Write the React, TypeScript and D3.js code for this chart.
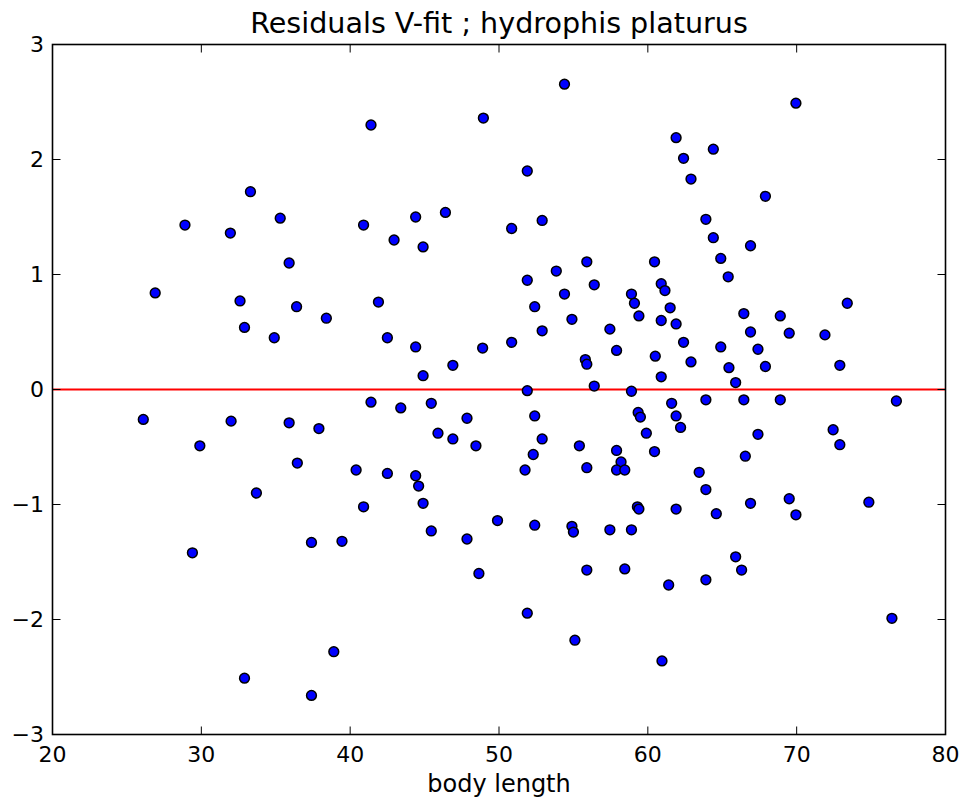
import React from "react";
import * as d3 from "d3";

const bodyLength: number[] = [
  33.3, 28.9, 31.95, 35.3, 26.9, 32.6, 32.9, 34.9, 41.4, 48.95,
  40.9, 44.4, 46.4, 42.95, 44.9, 35.9, 36.4, 38.4, 41.9, 42.5,
  44.4, 48.9, 46.9, 44.9, 54.4, 51.9, 50.85, 52.9, 61.9, 62.4,
  64.4, 62.9, 63.9, 64.4, 64.9, 65.4, 55.9, 60.45, 53.85, 51.9,
  56.4, 54.4, 52.4, 52.9, 54.9, 50.85, 58.9, 59.1, 59.4, 60.9,
  61.15, 61.5, 60.9, 61.9, 57.45, 57.9, 55.8, 55.9, 60.5, 62.4,
  62.9, 64.9, 60.9, 51.9, 56.4, 58.9, 69.95, 67.9, 66.9, 73.4,
  66.45, 68.9, 66.9, 69.5, 71.9, 67.4, 65.45, 67.9, 72.9, 65.9,
  26.1, 32.0, 29.9, 33.7, 29.4, 32.9, 35.9, 37.9, 41.4, 43.4,
  45.45, 47.85, 45.9, 46.9, 48.45, 36.45, 40.4, 42.5, 44.4, 44.6,
  44.9, 40.9, 49.9, 45.45, 37.4, 39.45, 47.85, 48.65, 38.9, 37.4,
  61.6, 63.9, 52.4, 59.35, 59.5, 61.9, 62.2, 59.9, 52.9, 55.4,
  57.9, 60.45, 52.3, 58.2, 51.75, 55.9, 57.9, 58.45, 63.45, 63.9,
  59.3, 59.4, 61.9, 64.6, 52.4, 54.9, 55.0, 57.45, 58.9, 55.9,
  58.45, 61.4, 63.9, 51.9, 55.1, 60.95, 66.45, 68.9, 76.7, 67.4,
  72.45, 72.9, 66.55, 66.9, 69.5, 69.95, 74.85, 65.9, 66.3, 76.4,
];

const residuals: number[] = [
  1.72, 1.43, 1.36, 1.49, 0.84, 0.77, 0.54, 0.45, 2.3, 2.36,
  1.43, 1.5, 1.54, 1.3, 1.24, 1.1, 0.72, 0.62, 0.76, 0.45,
  0.37, 0.36, 0.21, 0.12, 2.655, 1.9, 1.4, 1.47, 2.19, 2.01,
  2.09, 1.83, 1.48, 1.32, 1.14, 0.98, 1.11, 1.11, 1.03, 0.95,
  0.91, 0.83, 0.72, 0.51, 0.61, 0.41, 0.83, 0.75, 0.64, 0.92,
  0.86, 0.71, 0.6, 0.57, 0.525, 0.34, 0.26, 0.22, 0.29, 0.41,
  0.24, 0.37, 0.11, -0.01, 0.03, -0.015, 2.49, 1.68, 1.25, 0.75,
  0.66, 0.64, 0.5, 0.49, 0.475, 0.35, 0.19, 0.2, 0.21, 0.06,
  -0.26, -0.275, -0.49, -0.9, -1.42, -2.51, -0.29, -0.34, -0.11, -0.16,
  -0.12, -0.25, -0.38, -0.43, -0.49, -0.64, -0.7, -0.73, -0.75, -0.84,
  -0.99, -1.02, -1.14, -1.23, -1.33, -1.32, -1.3, -1.6, -2.28, -2.66,
  -0.12, -0.09, -0.23, -0.2, -0.24, -0.23, -0.33, -0.38, -0.43, -0.49,
  -0.53, -0.54, -0.565, -0.63, -0.7, -0.68, -0.7, -0.7, -0.72, -0.87,
  -1.02, -1.04, -1.04, -1.08, -1.18, -1.19, -1.24, -1.22, -1.22, -1.57,
  -1.56, -1.7, -1.655, -1.945, -2.18, -2.36, -0.09, -0.09, -0.1, -0.39,
  -0.35, -0.48, -0.58, -0.99, -0.95, -1.09, -0.98, -1.455, -1.57, -1.99,
];

const xTicks: number[] = [20, 30, 40, 50, 60, 70, 80];
const yTicks: number[] = [-3, -2, -1, 0, 1, 2, 3];

const W = 965;
const H = 803;
const left = 52.5;
const right = 945.5;
const top = 44.5;
const bottom = 734.5;
const FONT = "'DejaVu Sans', sans-serif";

export default function App() {
  const x = d3.scaleLinear().domain([20, 80]).range([left, right]);
  const y = d3.scaleLinear().domain([-3, 3]).range([bottom, top]);
  const tickLen = 8;
  const fmt = (v: number) => (v < 0 ? "\u2212" + Math.abs(v) : String(v));

  return (
    <svg
      width={W}
      height={H}
      style={{ position: "absolute", left: 0, top: 0, background: "#fff" }}
    >
      <rect x={0} y={0} width={W} height={H} fill="#fff" />
      <defs>
        <clipPath id="plotclip">
          <rect x={left} y={top} width={right - left} height={bottom - top} />
        </clipPath>
      </defs>
      <line
        x1={left}
        x2={right}
        y1={y(0)}
        y2={y(0)}
        stroke="#ff0000"
        strokeWidth={2}
        clipPath="url(#plotclip)"
      />
      <g clipPath="url(#plotclip)">
        {bodyLength.map((bl, i) => (
          <circle
            key={i}
            cx={x(bl)}
            cy={y(residuals[i])}
            r={4.9}
            fill="#0000ff"
            stroke="#000"
            strokeWidth={1.5}
          />
        ))}
      </g>
      {xTicks.map((t) => (
        <g key={"x" + t}>
          <line x1={x(t)} x2={x(t)} y1={bottom} y2={bottom - tickLen} stroke="#000" strokeWidth={1} />
          <line x1={x(t)} x2={x(t)} y1={top} y2={top + tickLen} stroke="#000" strokeWidth={1} />
          <text
            x={x(t)}
            y={762}
            textAnchor="middle"
            fontFamily={FONT}
            fontSize={22}
            fill="#000"
          >
            {fmt(t)}
          </text>
        </g>
      ))}
      {yTicks.map((t) => (
        <g key={"y" + t}>
          <line x1={left} x2={left + tickLen} y1={y(t)} y2={y(t)} stroke="#000" strokeWidth={1} />
          <line x1={right} x2={right - tickLen} y1={y(t)} y2={y(t)} stroke="#000" strokeWidth={1} />
          <text
            x={44}
            y={y(t)}
            dy="0.36em"
            textAnchor="end"
            fontFamily={FONT}
            fontSize={22}
            fill="#000"
          >
            {fmt(t)}
          </text>
        </g>
      ))}
      <rect
        x={left}
        y={top}
        width={right - left}
        height={bottom - top}
        fill="none"
        stroke="#000"
        strokeWidth={1.6}
      />
      <text
        x={499}
        y={33}
        textAnchor="middle"
        fontFamily={FONT}
        fontSize={28.6}
        fill="#000"
      >
        Residuals V-fit ; hydrophis platurus
      </text>
      <text
        x={499}
        y={792}
        textAnchor="middle"
        fontFamily={FONT}
        fontSize={24}
        fill="#000"
      >
        body length
      </text>
    </svg>
  );
}
